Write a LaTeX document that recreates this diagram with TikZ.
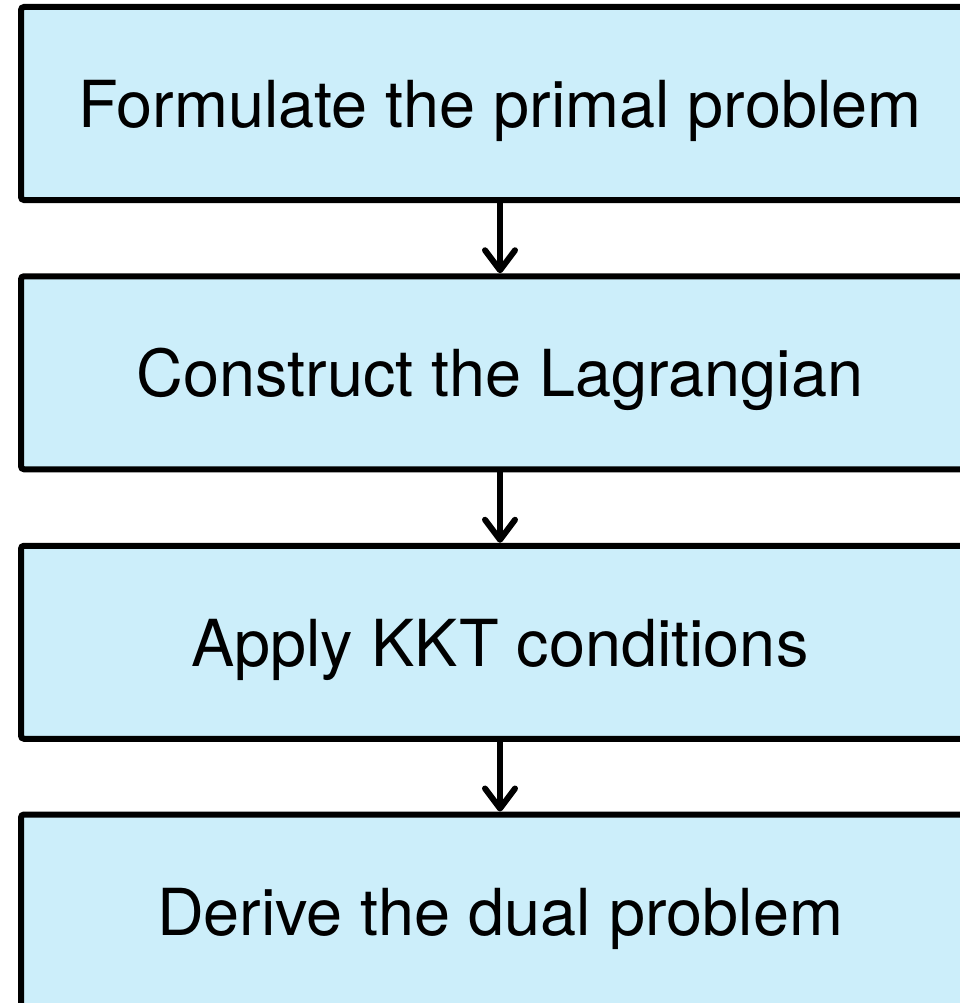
\documentclass[tikz,border=0pt]{standalone}
\usepackage{fontspec}
\setmainfont{TeX Gyre Heros}
\usetikzlibrary{arrows.meta}
\definecolor{boxfill}{RGB}{204,238,250}
\tikzset{
  stepbox/.style={draw=black, line width=6pt, fill=boxfill, rounded corners=3pt,
    minimum width=958pt, minimum height=193pt, inner sep=0pt,
    text height=48pt, text depth=0pt,
    font=\fontsize{64.8}{76}\selectfont},
  flowarrow/.style={draw=black, line width=6pt,
    -{Straight Barb[length=20pt,width=30pt,round]}}
}
\begin{document}
\begin{tikzpicture}[x=1pt,y=-1pt]
\useasboundingbox (0,0) rectangle (959,1003);
\node[stepbox] (b1) at (500,103.5) {Formulate the primal problem};
\node[stepbox] (b2) at (500,372.75) {Construct the Lagrangian};
\node[stepbox] (b3) at (500,642.25) {Apply KKT conditions};
\node[stepbox] (b4) at (500,911) {Derive the dual problem};
\draw[flowarrow] (b1.south) -- (b2.north);
\draw[flowarrow] (b2.south) -- (b3.north);
\draw[flowarrow] (b3.south) -- (b4.north);
\end{tikzpicture}
\end{document}
